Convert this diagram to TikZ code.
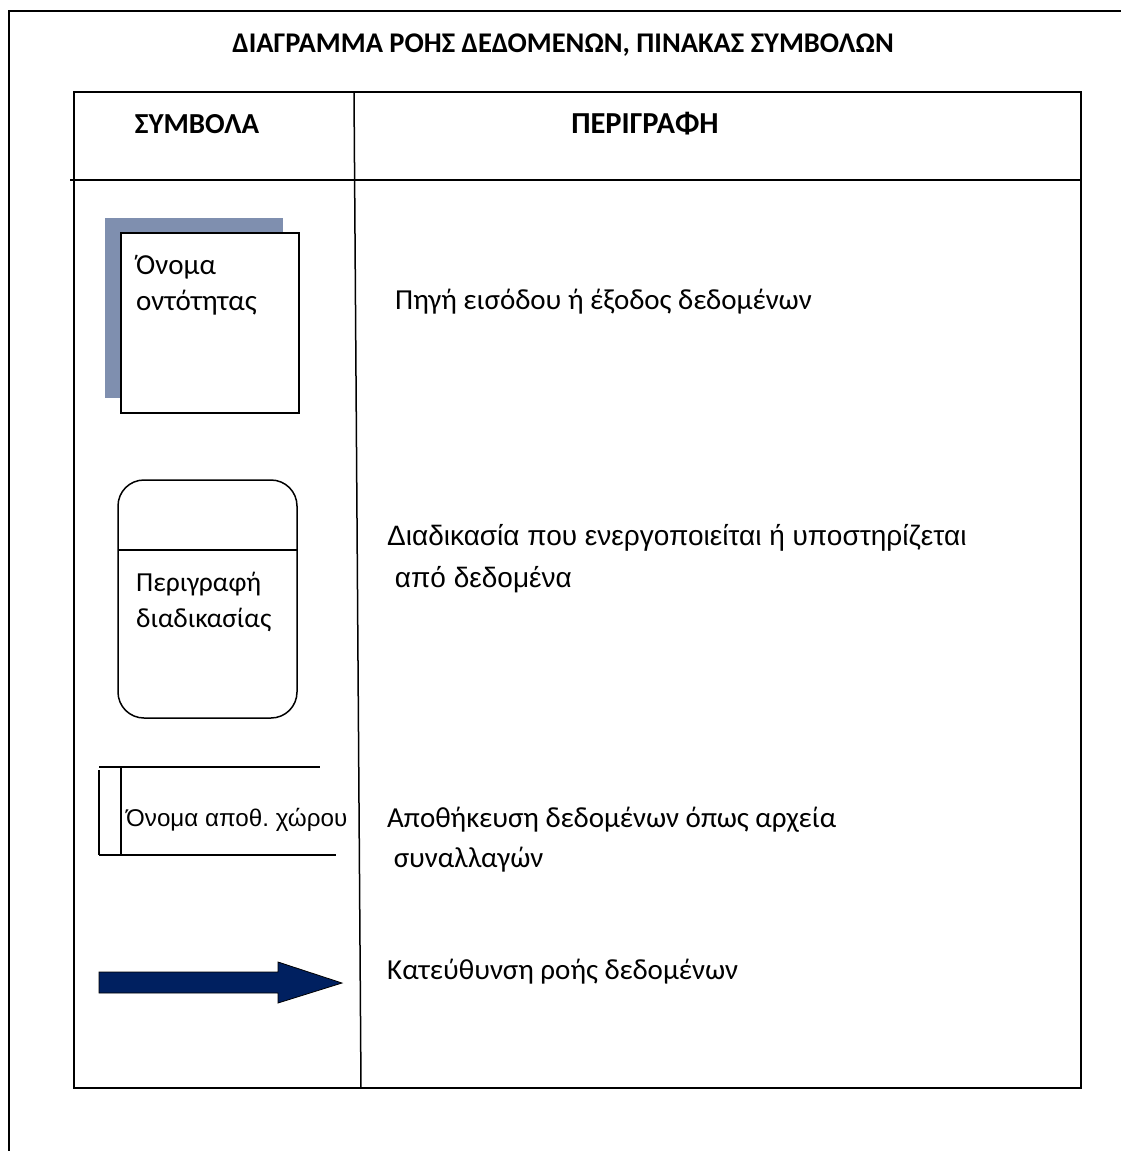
\documentclass[tikz,border=0pt]{standalone}
\usepackage{fontspec}
\setmainfont{Carlito}
\newfontfamily\arialfont{Liberation Sans}
\usetikzlibrary{calc}
\definecolor{shadowblue}{RGB}{127,143,175}
\definecolor{flownavy}{RGB}{0,32,96}
\tikzset{
  frameline/.style={line width=1.6pt, black},
  gridline/.style={line width=1.5pt, black},
  shapeline/.style={line width=1.5pt, black},
  headtext/.style={font=\fontsize{29}{34}\selectfont\bfseries, inner sep=0pt},
  desctext/.style={font=\fontsize{29}{40}\selectfont, anchor=west, align=left, inner sep=0pt},
  desctextarial/.style={font=\arialfont\fontsize{28}{42}\selectfont, anchor=west, align=left, inner sep=0pt},
  symtext/.style={font=\fontsize{29}{36}\selectfont, anchor=west, align=left, inner sep=0pt},
}
\begin{document}
\begin{tikzpicture}[x=1pt,y=-1pt]
\useasboundingbox (0,0) rectangle (1121,1151);

% outer frame: top and left edges only
\coordinate (fTL) at (9,11);
\coordinate (fTR) at (1121,11);
\coordinate (fBL) at (9,1151);
\draw[frameline] (fBL) -- (fTL) -- (fTR);

% title
\node[headtext, font=\fontsize{28.5}{34}\selectfont\bfseries] (title) at (563,45) {ΔΙΑΓΡΑΜΜΑ ΡΟΗΣ ΔΕΔΟΜΕΝΩΝ, ΠΙΝΑΚΑΣ ΣΥΜΒΟΛΩΝ};

% table
\coordinate (tTL) at (74,92);
\coordinate (tTR) at (1081,92);
\coordinate (tBR) at (1081,1088);
\coordinate (tBL) at (74,1088);
\draw[gridline] (tTL) -- (tTR) -- (tBR) -- (tBL) -- cycle;
\coordinate (hL) at (70,180);
\coordinate (hR) at (1081,180);
\draw[gridline] (hL) -- (hR);
\coordinate (dTop) at (354,92);
\coordinate (dBot) at (361,1088);
\draw[gridline] (dTop) -- (dBot);

\node[headtext] (colsym) at (197,124) {ΣΥΜΒΟΛΑ};
\node[headtext, font=\fontsize{30.5}{34}\selectfont\bfseries] (coldesc) at (645,124) {ΠΕΡΙΓΡΑΦΗ};

% external entity with offset shadow
\fill[shadowblue] (105,218) rectangle (283,398);
\draw[shapeline, fill=white] (121,233) rectangle (299,413);
\node[symtext] (entity) at (136,285) {Όνομα\\οντότητας};
\node[desctext] (entitydesc) at (395,302) {Πηγή εισόδου ή έξοδος δεδομένων};

% process
\draw[shapeline, rounded corners=26pt] (118,480) rectangle (297,718);
\coordinate (pL) at (118,550);
\coordinate (pR) at (297,550);
\draw[shapeline] (pL) -- (pR);
\node[symtext, font=\fontsize{27.5}{36}\selectfont] (process) at (136,602) {Περιγραφή\\διαδικασίας};
\node[desctextarial] (processdesc) at (387,559) {Διαδικασία που ενεργοποιείται ή υποστηρίζεται\\\ από δεδομένα};

% data store
\coordinate (sTL) at (99,767);
\coordinate (sTR) at (320,767);
\coordinate (sBL) at (99,855);
\coordinate (sBR) at (336,855);
\coordinate (sIT) at (121,767);
\coordinate (sIB) at (121,855);
\draw[shapeline] (sTL) -- (sTR);
\draw[shapeline] (sBL) -- (sBR);
\draw[shapeline] ($(sTL)+(0,3)$) -- (sBL);
\draw[shapeline] (sIT) -- (sIB);
\node[desctextarial, font=\arialfont\fontsize{24.2}{30}\selectfont] (store) at (126,820) {Όνομα αποθ.~χώρου};
\node[desctext] (storedesc) at (387,840) {Αποθήκευση δεδομένων όπως αρχεία\\\ συναλλαγών};

% data flow arrow
\draw[line width=0.8pt, black, fill=flownavy]
  (99,972) -- (278,972) -- (278,962) -- (342,983) -- (278,1003) -- (278,993) -- (99,993) -- cycle;
\node[desctext] (flowdesc) at (387,972) {Κατεύθυνση ροής δεδομένων};
\end{tikzpicture}
\end{document}
